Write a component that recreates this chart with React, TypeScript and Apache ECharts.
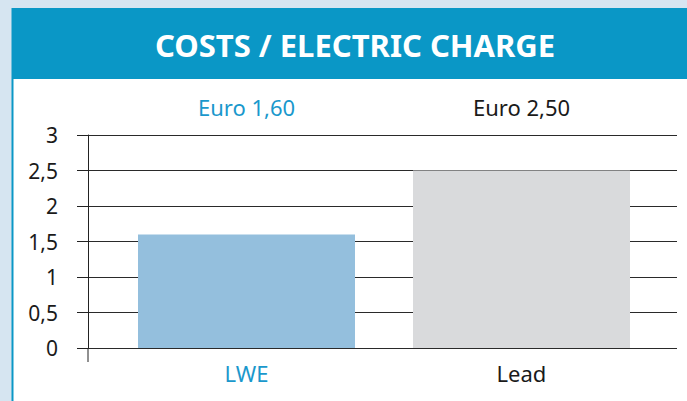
import React, { useEffect, useRef } from "react";
import * as echarts from "echarts";

const categories = ["LWE", "Lead"];
const costs = [1.6, 2.5];
const yTicks = [0, 0.5, 1, 1.5, 2, 2.5, 3];

const FONT = '"Noto Sans", "Open Sans", "Liberation Sans", sans-serif';
const BLUE_TEXT = "#1a98cc";
const barColors = ["#94bfdd", "#d9dadc"];
const labelColors = [BLUE_TEXT, "#1a1a1a"];

const fmt = (v: number) => String(v).replace(".", ",");
const euro = (v: number) => "Euro " + v.toFixed(2).replace(".", ",");

export default function App() {
  const ref = useRef<HTMLDivElement>(null);
  useEffect(() => {
    if (!ref.current) return;
    const chart = echarts.init(ref.current, undefined, { renderer: "svg" });
    const yMin = yTicks[0];
    const yMax = yTicks[yTicks.length - 1];
    const step = yTicks[1] - yTicks[0];
    chart.setOption({
      animation: false,
      backgroundColor: "#d6e5f1",
      graphic: [
        { type: "rect", z: -10, shape: { x: 11.5, y: 8, width: 680, height: 400 }, style: { fill: "#0a97c6" } },
        { type: "rect", z: -10, shape: { x: 13.5, y: 79, width: 680, height: 330 }, style: { fill: "#ffffff" } },
        {
          type: "text",
          x: 355,
          y: 45,
          style: {
            text: "COSTS / ELECTRIC CHARGE",
            fill: "#ffffff",
            font: 'bold 31px ' + FONT,
            align: "center",
            verticalAlign: "middle",
          },
        },
        { type: "line", shape: { x1: 88, y1: 348, x2: 88, y2: 362 }, style: { stroke: "#222", lineWidth: 1 } },
      ],
      grid: [
        { left: 109, right: 28, top: 135, bottom: 53 },
        { left: 88, right: 10, top: 135, bottom: 53 },
      ],
      xAxis: [
        {
          type: "category",
          gridIndex: 0,
          data: categories,
          position: "bottom",
          axisLine: { show: false },
          axisTick: { show: false },
          axisLabel: {
            margin: 14,
            fontFamily: FONT,
            fontSize: 22,
            formatter: (v: string) => {
              const i = categories.indexOf(v);
              return "{c" + i + "|" + v + "}";
            },
            rich: {
              c0: { color: labelColors[0], fontFamily: FONT, fontSize: 22 },
              c1: { color: labelColors[1], fontFamily: FONT, fontSize: 22 },
            },
          },
        },
        {
          type: "category",
          gridIndex: 0,
          data: categories,
          position: "top",
          axisLine: { show: false },
          axisTick: { show: false },
          axisLabel: {
            margin: 17,
            fontFamily: FONT,
            fontSize: 22,
            formatter: (v: string) => {
              const i = categories.indexOf(v);
              return "{c" + i + "|" + euro(costs[i]) + "}";
            },
            rich: {
              c0: { color: labelColors[0], fontFamily: FONT, fontSize: 22 },
              c1: { color: labelColors[1], fontFamily: FONT, fontSize: 22 },
            },
          },
        },
        { type: "value", gridIndex: 1, min: 0, max: 1, show: false },
      ],
      yAxis: [
        { type: "value", gridIndex: 0, min: yMin, max: yMax, interval: step, show: false },
        {
          type: "value",
          gridIndex: 1,
          min: yMin,
          max: yMax,
          interval: step,
          axisLine: { show: true, lineStyle: { color: "#222", width: 1 } },
          axisTick: { show: true, inside: false, length: 11, lineStyle: { color: "#222", width: 1 } },
          splitLine: { show: true, lineStyle: { color: "#2a2a2a", width: 1 } },
          axisLabel: {
            margin: 30,
            fontFamily: FONT,
            fontSize: 21,
            color: "#1a1a1a",
            formatter: (v: number) => fmt(v),
          },
        },
      ],
      series: [
        {
          type: "bar",
          xAxisIndex: 0,
          yAxisIndex: 0,
          barWidth: 217,
          z: 5,
          data: costs.map((v, i) => ({ value: v, itemStyle: { color: barColors[i] } })),
        },
      ],
    });
    return () => chart.dispose();
  }, []);
  return (
    <div
      ref={ref}
      style={{ position: "absolute", left: 0, top: 0, width: 687, height: 401 }}
    />
  );
}
